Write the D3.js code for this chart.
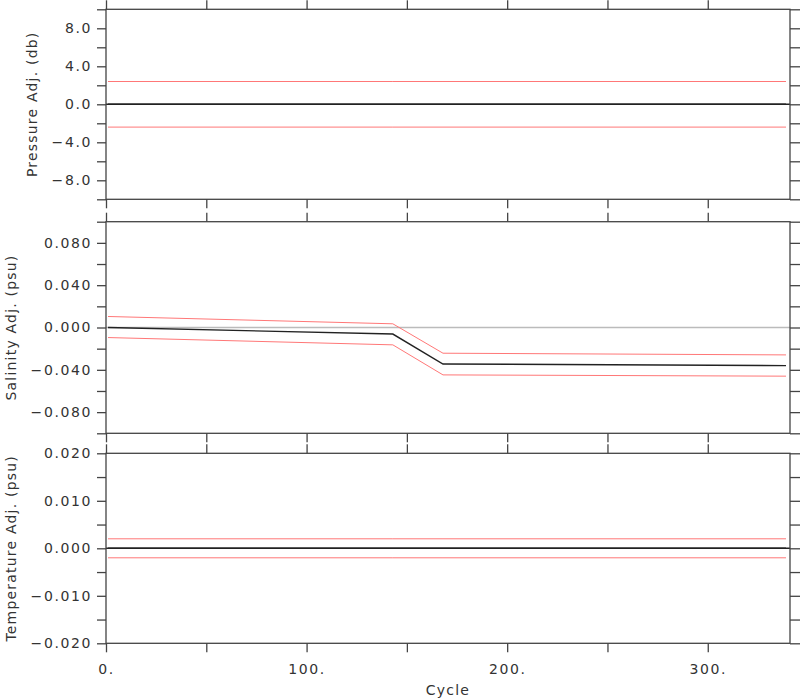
<!DOCTYPE html>
<html>
<head>
<meta charset="utf-8">
<script src="https://cdn.jsdelivr.net/npm/d3@7"></script>
<style>
  html, body { margin: 0; padding: 0; background: #fff; }
  svg { display: block; }
  .tick text { font-family: "DejaVu Sans", sans-serif; font-size: 14px; letter-spacing: 1.6px; fill: #333; }
  .title { font-family: "DejaVu Sans", sans-serif; font-size: 14px; letter-spacing: 1.2px; fill: #333; }
</style>
</head>
<body>
<svg id="chart" width="800" height="700"></svg>
<script>
// ---- data ----
const cycles = [1, 143, 168, 339];

const presAdj   = [0, 0, 0, 0];
const presUpper = [2.4, 2.4, 2.4, 2.4];
const presLower = [-2.4, -2.4, -2.4, -2.4];

const salAdj   = [0.0000, -0.0062, -0.0345, -0.0360];
const salUpper = [0.0104, 0.0035, -0.0243, -0.0259];
const salLower = [-0.0095, -0.0164, -0.0448, -0.0460];

const tempAdj   = [0, 0, 0, 0];
const tempUpper = [0.002, 0.002, 0.002, 0.002];
const tempLower = [-0.002, -0.002, -0.002, -0.002];

const xTicks = [0, 50, 100, 150, 200, 250, 300];
const xLabels = [0, 100, 200, 300];
const xLabelText = ["0.", "100.", "200.", "300."];

const presTicks = [-10, -8, -6, -4, -2, 0, 2, 4, 6, 8, 10];
const presLabels = [8, 4, 0, -4, -8];
const presLabelText = ["8.0", "4.0", "0.0", "\u22124.0", "\u22128.0"];

const salTicks = [-0.1, -0.08, -0.06, -0.04, -0.02, 0, 0.02, 0.04, 0.06, 0.08, 0.1];
const salLabels = [0.08, 0.04, 0, -0.04, -0.08];
const salLabelText = ["0.080", "0.040", "0.000", "\u22120.040", "\u22120.080"];

const tempTicks = [-0.02, -0.015, -0.01, -0.005, 0, 0.005, 0.01, 0.015, 0.02];
const tempLabels = [0.02, 0.01, 0, -0.01, -0.02];
const tempLabelText = ["0.020", "0.010", "0.000", "\u22120.010", "\u22120.020"];

// ---- layout ----
const svg = d3.select("#chart");
const left = 106, right = 790;
const x = d3.scaleLinear().domain([0, 341]).range([left, right]);

const panels = [
  { top: 9.3, bottom: 199.3, domain: [-10, 10], ticks: presTicks, labels: presLabels, labelText: presLabelText,
    adj: presAdj, upper: presUpper, lower: presLower, title: "Pressure Adj. (db)", titleX: 32, zeroColor: "#222" },
  { top: 221.7, bottom: 433.3, domain: [-0.1, 0.1], ticks: salTicks, labels: salLabels, labelText: salLabelText,
    adj: salAdj, upper: salUpper, lower: salLower, title: "Salinity Adj. (psu)", titleX: 11, zeroColor: "#bbb" },
  { top: 453.3, bottom: 643.3, domain: [-0.02, 0.02], ticks: tempTicks, labels: tempLabels, labelText: tempLabelText,
    adj: tempAdj, upper: tempUpper, lower: tempLower, title: "Temperature Adj. (psu)", titleX: 11, zeroColor: "#222" }
];

const frameColor = "#444";

function styleAxis(g) {
  g.select(".domain").remove();
  g.selectAll(".tick line").attr("stroke", frameColor).attr("stroke-width", 1.3);
}

panels.forEach((p, i) => {
  const y = d3.scaleLinear().domain(p.domain).range([p.bottom, p.top]);
  const fmt = v => {
    const k = p.labels.findIndex(l => Math.abs(l - v) < 1e-9);
    return k >= 0 ? p.labelText[k] : "";
  };

  // zero reference line
  svg.append("line")
    .attr("x1", left).attr("x2", right)
    .attr("y1", y(0)).attr("y2", y(0))
    .attr("stroke", p.zeroColor).attr("stroke-width", 1.4);

  const line = d3.line().x((d, j) => x(cycles[j])).y(d => y(d));
  svg.append("path").datum(p.upper).attr("d", line)
    .attr("fill", "none").attr("stroke", "#ff7777").attr("stroke-width", 1);
  svg.append("path").datum(p.lower).attr("d", line)
    .attr("fill", "none").attr("stroke", "#ff7777").attr("stroke-width", 1);
  svg.append("path").datum(p.adj).attr("d", line)
    .attr("fill", "none").attr("stroke", "#222").attr("stroke-width", 1.4);

  // left axis
  svg.append("g").attr("transform", `translate(${left},0)`)
    .call(d3.axisLeft(y).tickValues(p.ticks).tickSize(9).tickPadding(5).tickFormat(fmt))
    .call(styleAxis);
  // right axis (no labels)
  svg.append("g").attr("transform", `translate(${right},0)`)
    .call(d3.axisRight(y).tickValues(p.ticks).tickSize(10).tickFormat(""))
    .call(styleAxis);
  // top axis
  svg.append("g").attr("transform", `translate(0,${p.top})`)
    .call(d3.axisTop(x).tickValues(xTicks).tickSize(9).tickFormat(""))
    .call(styleAxis);
  // bottom axis
  const bottomAxis = d3.axisBottom(x).tickValues(xTicks).tickSize(9).tickPadding(12);
  if (i === panels.length - 1) {
    bottomAxis.tickFormat(v => {
      const k = xLabels.indexOf(v);
      return k >= 0 ? xLabelText[k] : "";
    });
  } else {
    bottomAxis.tickFormat("");
  }
  svg.append("g").attr("transform", `translate(0,${p.bottom})`)
    .call(bottomAxis)
    .call(styleAxis);

  // frame
  svg.append("rect")
    .attr("x", left).attr("y", p.top)
    .attr("width", right - left).attr("height", p.bottom - p.top)
    .attr("fill", "none").attr("stroke", frameColor).attr("stroke-width", 1.3);

  // title
  const cy = (p.top + p.bottom) / 2;
  svg.append("text").attr("class", "title")
    .attr("transform", `translate(${p.titleX},${cy}) rotate(-90)`)
    .attr("text-anchor", "middle").attr("dy", "0.35em")
    .text(p.title);
});

svg.append("text").attr("class", "title")
  .attr("x", (left + right) / 2).attr("y", 695)
  .attr("text-anchor", "middle")
  .text("Cycle");
</script>
</body>
</html>
